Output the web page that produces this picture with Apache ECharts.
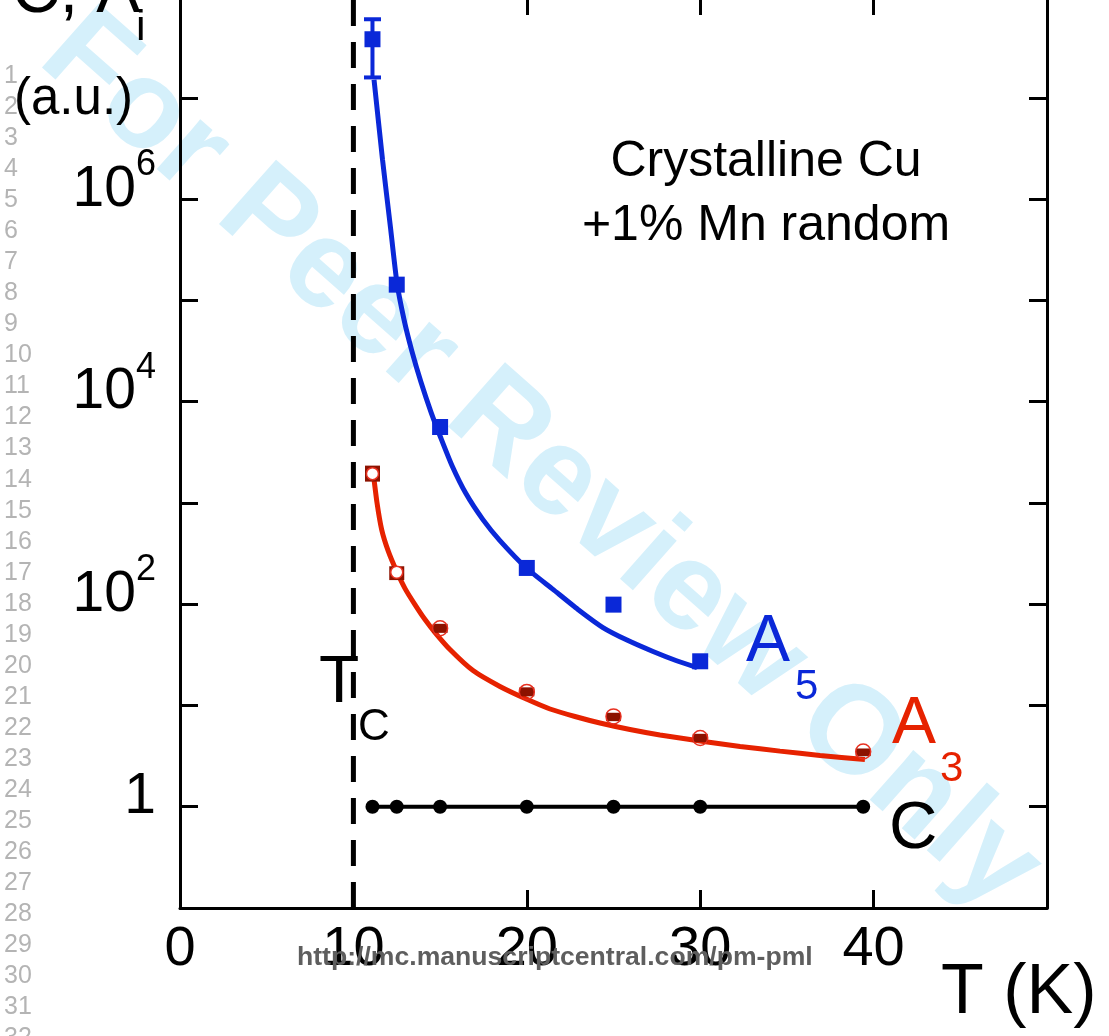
<!DOCTYPE html>
<html><head><meta charset="utf-8">
<script src="https://cdn.jsdelivr.net/npm/echarts@6/dist/echarts.min.js"></script>
<style>html,body{margin:0;padding:0;background:#fff}#c{width:1109px;height:1036px}</style>
</head><body><div id="c"></div>
<script>
const FONT = '"Liberation Sans", Arial, Helvetica, sans-serif';

// tick labels
const xTickLabels = [0, 10, 20, 30, 40];
const yTickValues = [0.1, 1, 10, 100, 1e3, 1e4, 1e5, 1e6, 1e7];
const yLabelExps = [0, 2, 4, 6];

// C (black)
const cT = [11.1, 12.5, 15, 20, 25, 30, 39.4];
const cV = [1, 1, 1, 1, 1, 1, 1];

// A5 (blue) measured points
const a5T = [11.1, 12.5, 15, 20, 25, 30];
const a5V = [3.79e7, 1.43e5, 5620, 228, 99, 27.3];
const a5ErrT = [11.1];
const a5ErrLow = [1.59e7];
const a5ErrHigh = [5.97e7];
// A5 fit curve
const a5FitT = [11.19, 11.68, 12.14, 12.51, 12.92, 13.38, 13.90, 14.48, 15.05, 15.69, 16.49, 17.47, 18.45,
                20.01, 21.51, 22.95, 24.39, 25.84, 27.28, 28.60, 29.82];
const a5FitV = [1.507e7, 2.45e6, 5.22e5, 1.496e5, 6.46e4, 3.12e4, 1.553e4, 7850, 4350, 2330, 1236, 684, 425,
                225, 140, 88.7, 58.8, 43.7, 34.1, 27.8, 23.7];

// A3 (red) measured points
const a3T = [11.1, 12.5, 15, 20, 25, 30, 39.4];
const a3V = [1946, 207, 57.9, 13.6, 7.8, 4.77, 3.51];
const a3Low = [1623, 173, 52.1, 12.3, 7.0, 4.34, 3.16];
const a3High = [2335, 237, 64, 15.1, 8.47, 5.25, 3.76];
// A3 fit curve
const a3FitT = [11.15, 11.36, 11.63, 12.0, 12.5, 12.98, 13.55, 14.13, 14.71, 15.57, 16.9, 18.45, 20.01,
                21.34, 22.78, 24.22, 25.95, 27.68, 29.99, 32.3, 34.6, 36.91, 39.5];
const a3FitV = [1946, 1007, 545, 338, 210, 142.6, 99.1, 70.5, 52.5, 35.7, 22.1, 15.4, 11.5,
                9.23, 7.78, 6.71, 5.79, 5.11, 4.46, 3.94, 3.54, 3.21, 2.93];

// Tc dashed line
const tcT = [10, 10];
const tcV = [0.1, 1e8];

const BLUE = '#0A28D8', RED = '#E62200', DARKRED = '#8C1200';

const zip = (a, b) => a.map((v, i) => [v, b[i]]);
const zip3 = (a, b, c) => a.map((v, i) => [v, b[i], c[i]]);

// error bars: filled block, or bar + caps
function errRender(color, capW, blockFill) {
  return function (params, api) {
    const x = api.value(0), lo = api.value(1), hi = api.value(2);
    const pLo = api.coord([x, lo]), pHi = api.coord([x, hi]);
    const h = pLo[1] - pHi[1];
    const style = { fill: color };
    if (h < 12 || blockFill) {
      return { type: 'rect', shape: { x: pHi[0] - capW / 2, y: pHi[1], width: capW, height: h }, style };
    }
    return { type: 'group', children: [
      { type: 'rect', shape: { x: pHi[0] - 2, y: pHi[1], width: 4, height: h }, style },
      { type: 'rect', shape: { x: pHi[0] - capW / 2, y: pHi[1] - 2, width: capW, height: 4 }, style },
      { type: 'rect', shape: { x: pLo[0] - capW / 2, y: pLo[1] - 2, width: capW, height: 4 }, style }
    ]};
  };
}

const txt = (text, x, y, size, fill, extra) => ({
  type: 'text', x: x, y: y, z: 100,
  style: Object.assign({ text: text, fontSize: size, fontFamily: FONT, fill: fill || '#000',
    align: 'left', verticalAlign: 'middle' }, extra || {})
});

const graphics = [];
// watermark
graphics.push({
  type: 'text', x: 540, y: 462, rotation: -41.5 * Math.PI / 180, z: -10,
  style: { text: 'For Peer Review Only', fontSize: 125, fontWeight: 'bold', fontFamily: FONT,
    fill: '#D5F0FB', align: 'center', verticalAlign: 'middle' }
});
// manuscript line numbers
for (let n = 1; n <= 32; n++) {
  graphics.push(txt(String(n), 4, 76 + (n - 1) * 31.05, 25, '#B4B4B4'));
}
// url
graphics.push(txt('http://mc.manuscriptcentral.com/pm-pml', 297, 958, 26.6, '#5E5E5E', { fontWeight: 'bold' }));
// y-axis title
graphics.push(txt('C, A', 12, -6, 66));
graphics.push(txt('i', 136, 28, 43));
graphics.push(txt('(a.u.)', 14, 100, 51));
// annotation
graphics.push(txt('Crystalline Cu', 766, 162, 50, '#000', { align: 'center' }));
graphics.push(txt('+1% Mn random', 766, 226, 50, '#000', { align: 'center' }));
// Tc
graphics.push(txt('T', 319, 684, 66));
graphics.push(txt('C', 358, 728, 44));
// series labels
graphics.push(txt('A', 746, 643, 66, BLUE));
graphics.push(txt('5', 795, 687, 42, BLUE));
graphics.push(txt('A', 892, 725, 66, RED));
graphics.push(txt('3', 940, 769, 42, RED));
graphics.push(txt('C', 889, 830, 67));
// x-axis title
graphics.push(txt('T (K)', 941, 994, 70));

const axisLineStyle = { color: '#000', width: 3 };
const tickStyle = (len) => ({ show: true, inside: true, length: len, lineStyle: { color: '#000', width: 3 } });

const a3Markers = a3T.map((t, i) => ({
  value: [t, a3V[i]],
  symbolSize: i < 2 ? 12 : 15,
  itemStyle: { color: i < 2 ? '#ffffff' : 'rgba(255,255,255,0)', borderColor: '#E83020', borderWidth: 1.5, opacity: 1 }
}));

const option = {
  animation: false,
  backgroundColor: '#fff',
  grid: { left: 180, right: 62, top: 0, bottom: 128, containLabel: false },
  xAxis: [
    { type: 'value', min: 0, max: 50, interval: 10, position: 'bottom',
      axisLine: { show: true, lineStyle: axisLineStyle, onZero: false },
      axisTick: tickStyle(18), splitLine: { show: false },
      axisLabel: { show: true, margin: 14, fontSize: 56, fontFamily: FONT, color: '#000',
        formatter: v => xTickLabels.includes(v) ? String(v) : '' } },
    { type: 'value', min: 0, max: 50, interval: 10, position: 'top',
      axisLine: { show: false, onZero: false },
      axisTick: tickStyle(15), splitLine: { show: false }, axisLabel: { show: false } }
  ],
  yAxis: [
    { type: 'log', logBase: 10, min: 0.1, max: 9.25e7, interval: 1, position: 'left',
      axisLine: { show: true, lineStyle: axisLineStyle, onZero: false },
      axisTick: Object.assign(tickStyle(18), { customValues: yTickValues }),
      splitLine: { show: false }, minorTick: { show: false },
      axisLabel: { show: true, margin: 24, color: '#000', padding: [0, 0, 18, 0],
        customValues: yTickValues,
        formatter: v => {
          const e = Math.round(Math.log10(v));
          if (!yLabelExps.includes(e)) return '';
          return e === 0 ? '{b|1}' : '{b|10}{s|' + e + '}';
        },
        rich: {
          b: { fontSize: 57, lineHeight: 86, fontFamily: FONT, color: '#000' },
          s: { fontSize: 36, lineHeight: 36, fontFamily: FONT, color: '#000', verticalAlign: 'top' }
        } } },
    { type: 'log', logBase: 10, min: 0.1, max: 9.25e7, interval: 1, position: 'right',
      axisLine: { show: true, lineStyle: axisLineStyle, onZero: false },
      axisTick: Object.assign(tickStyle(18), { customValues: yTickValues }),
      splitLine: { show: false }, axisLabel: { show: false } }
  ],
  graphic: graphics,
  series: [
    { type: 'line', data: zip(tcT, tcV), symbol: 'none', z: 1,
      lineStyle: { color: '#000', width: 5, type: [26, 16] } },
    { type: 'line', data: zip(cT, cV), symbol: 'circle', symbolSize: 14, showSymbol: true, z: 3,
      itemStyle: { color: '#000', opacity: 1 }, lineStyle: { color: '#000', width: 4 } },
    { type: 'line', data: zip(a5FitT, a5FitV), symbol: 'none', smooth: 0.2, z: 2,
      lineStyle: { color: BLUE, width: 5 } },
    { type: 'line', data: zip(a3FitT, a3FitV), symbol: 'none', smooth: 0.2, z: 2,
      lineStyle: { color: RED, width: 5 } },
    { type: 'custom', data: zip3(a5ErrT, a5ErrLow, a5ErrHigh), renderItem: errRender(BLUE, 17, false), z: 3,
      encode: { x: 0, y: [1, 2] } },
    { type: 'scatter', data: zip(a5T, a5V), symbol: 'rect', symbolSize: 16, z: 4,
      itemStyle: { color: BLUE, opacity: 1 } },
    { type: 'custom', data: zip3(a3T, a3Low, a3High), renderItem: errRender(DARKRED, 15, true), z: 3,
      encode: { x: 0, y: [1, 2] } },
    { type: 'scatter', data: a3Markers, symbol: 'circle', z: 4 }
  ]
};

const chart = echarts.init(document.getElementById('c'), null, { renderer: 'canvas' });
chart.setOption(option);
</script>
</body></html>
